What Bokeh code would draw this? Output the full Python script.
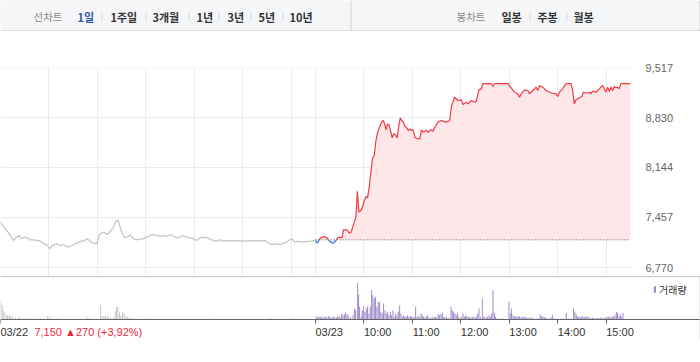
import numpy as np
from bokeh.plotting import figure
from bokeh.layouts import column
from bokeh.models import (FixedTicker, Label, Span, Range1d, NumeralTickFormatter,
                          Legend, LegendItem, LinearAxis)
from bokeh.embed import file_html
from bokeh.resources import INLINE
from bokeh.core.properties import value

# ---------------- data ----------------
PREV_CLOSE = 7150
price_ticks = [6770, 7457, 8144, 8830, 9517]

# minutes since 09:00 of 03/22
day1_min = [0, 4, 8, 12, 16, 20, 23, 26, 29, 33, 37, 41, 45, 49, 53, 58, 61, 64, 70, 74,
            78, 82, 86, 91, 95, 99, 103, 107, 111, 115, 119, 123, 128, 132, 136, 140, 142,
            145, 147, 150, 154, 158, 160, 165, 169, 173, 177, 181, 185, 189, 193, 198, 202,
            206, 210, 214, 218, 222, 226, 230, 235, 239, 243, 247, 251, 255, 259, 263, 267,
            272, 276, 280, 284, 288, 292, 296, 300, 305, 309, 313, 317, 321, 325, 329, 333,
            337, 342, 346, 350, 354, 358, 361, 364, 368, 372, 379, 385, 389]
day1_price = [7393, 7324, 7278, 7210, 7141, 7187, 7210, 7164, 7187, 7178, 7150, 7150, 7141,
              7132, 7104, 7072, 7026, 7072, 7095, 7072, 7086, 7058, 7058, 7086, 7104, 7132,
              7132, 7164, 7132, 7104, 7095, 7232, 7255, 7223, 7269, 7324, 7393, 7425, 7370,
              7255, 7178, 7196, 7219, 7164, 7150, 7164, 7164, 7187, 7210, 7223, 7210, 7196,
              7210, 7196, 7223, 7196, 7178, 7187, 7210, 7187, 7178, 7164, 7141, 7178, 7187,
              7178, 7164, 7141, 7132, 7150, 7132, 7141, 7132, 7141, 7132, 7141, 7132, 7132,
              7141, 7132, 7141, 7132, 7141, 7132, 7095, 7086, 7095, 7086, 7104, 7118, 7150,
              7164, 7118, 7132, 7118, 7127, 7132, 7141]

# minutes since 09:00 of 03/23
day2_min = [0, 2.4, 4.4, 6.5, 8.6, 10.6, 12.7, 14.3, 16, 18.4, 20.9, 23.4, 25.4, 27.5, 29.5,
            31.6, 33.2, 34.5, 37.4, 39.8, 41.9, 43.9, 46, 48.1, 50.1, 51.8, 53.8, 56.3, 58.4,
            60.4, 62.5, 64.5, 66.6, 68.6, 70.7, 72.8, 74.8, 76.9, 79.3, 81.8, 83.9, 85.9,
            87.2, 89.2, 91.3, 93.3, 95, 97, 99.1, 101.1, 103.2, 104.9, 106.9, 109, 110.6,
            112.7, 114.7, 116.8, 118.8, 120.9, 123, 126.2, 129.1, 131.2, 133.2, 135.3, 137.4,
            139.4, 142.7, 145.6, 147.6, 151.8, 155.1, 158, 162, 166.2, 168.2, 172.3, 176.5,
            180.6, 182.6, 186.8, 188.8, 192.9, 197, 199.1, 202.4, 205.3, 207.3, 217.6, 219.7,
            221.7, 238.2, 242.3, 246.4, 250.5, 252.6, 254.6, 258.8, 262.9, 264.9, 269.1,
            273.2, 275.2, 277.3, 281.4, 285.5, 289.6, 293.7, 297.9, 299.9, 302, 306.1, 310.2,
            316.4, 318.4, 320.5, 322.5, 326.7, 330, 331.6, 334.9, 339, 341.1, 343.1, 347.2,
            351.4, 353.4, 355.5, 357.5, 359.6, 361.6, 363.7, 365.8, 367.8, 369.9, 371.9, 374,
            376, 378.1, 388.4, 390]
day2_price = [7141, 7104, 7150, 7178, 7187, 7196, 7187, 7178, 7150, 7123, 7104, 7118, 7141,
              7178, 7187, 7178, 7187, 7288, 7292, 7278, 7242, 7250, 7324, 7393, 7470, 7818,
              7531, 7553, 7608, 7690, 7745, 7727, 7882, 8079, 8276, 8308, 8514, 8628, 8697,
              8766, 8789, 8734, 8661, 8743, 8720, 8628, 8551, 8606, 8590, 8551, 8720, 8826,
              8789, 8766, 8707, 8697, 8652, 8675, 8652, 8660, 8560, 8537, 8537, 8661, 8628,
              8642, 8652, 8628, 8661, 8642, 8697, 8766, 8789, 8780, 8766, 8789, 8981, 9109,
              9064, 9073, 9009, 9041, 9018, 9064, 9041, 9055, 9211, 9224, 9295, 9295, 9256,
              9295, 9295, 9238, 9178, 9156, 9109, 9156, 9211, 9201, 9156, 9201, 9247, 9201,
              9270, 9247, 9201, 9178, 9164, 9156, 9119, 9178, 9224, 9295, 9295, 9201, 9018,
              9073, 9101, 9119, 9178, 9164, 9178, 9156, 9192, 9178, 9224, 9247, 9270, 9224,
              9178, 9247, 9192, 9247, 9201, 9256, 9238, 9247, 9224, 9295, 9295, 9295]

vol1_min = [0.4, 2.0, 3.3, 5.3, 7.4, 9.0, 11.0, 13.0, 15.0, 18.5, 22.6, 24.7, 28.8, 33.0, 37.0,
            41.0, 45.0, 49.4, 53.5, 58.4, 60.5, 63.8, 70.0, 82.3, 96.7, 107.0, 109.0, 123.9,
            125.9, 128.0, 130.0, 132.1, 134.2, 136.2, 140.0, 142.0, 143.6, 145.3, 147.3, 149.0,
            151.0, 153.1, 155.1, 157.2, 159.7, 162.6, 165.4, 172.8, 181.0, 187.0, 201.6, 224.3,
            244.9, 263.4, 267.5, 334.0, 361.0]
vol1 = [183, 150, 90, 70, 40, 40, 40, 40, 27, 20, 30, 20, 13, 13, 13, 13, 13, 13, 13, 33, 27,
        20, 13, 10, 10, 30, 13, 143, 40, 33, 33, 40, 20, 20, 20, 80, 123, 123, 70, 40, 73, 60,
        33, 27, 20, 13, 13, 10, 10, 10, 10, 10, 10, 10, 10, 20, 13]

vol2_min = [1.0, 2.7, 4.3, 6.0, 7.6, 9.3, 10.9, 12.6, 14.2, 15.9, 17.5, 19.2, 20.8, 22.5, 24.1,
            25.8, 27.4, 29.1, 30.7, 32.4, 34.0, 35.7, 37.3, 39.0, 40.6,
            43.5, 46.4, 48.4, 49.7, 52.2, 53.4, 54.6, 56.7, 57.9, 59.6, 61.2, 62.9, 64.5, 66.2,
            67.8, 69.5, 71.1, 72.8, 74.4, 76.1, 77.7, 79.4, 81.0, 82.7, 84.3, 86.0, 87.7, 89.3,
            91.0, 92.6, 94.2, 95.9, 97.5, 99.2, 100.9, 102.5, 104.2, 105.8, 107.5, 109.1, 110.8,
            112.4, 114.1, 115.7, 117.4, 119.0, 120.7, 122.3, 124.0, 125.6, 127.3, 128.9, 130.6,
            132.2, 133.9, 135.5, 137.2, 138.8, 140.5, 142.1, 143.8, 145.4, 147.1, 148.7, 150.4,
            152.0, 153.7, 155.4, 157.0, 158.7, 160.3, 162.0, 163.6, 165.3, 167.7, 169.4, 171.0,
            172.7, 174.3, 176.0, 177.6, 179.3, 180.9, 182.6, 184.2, 185.9, 187.5, 189.2, 190.8,
            192.5, 194.1, 195.8, 197.4, 199.1, 200.7, 202.4, 204.0, 206.5, 208.2, 209.8, 211.5,
            213.1, 214.8, 216.4, 218.1, 219.7, 221.4, 223.0, 224.7, 228.0, 232.1, 239.5, 241.2,
            242.8, 244.5, 246.1, 247.8, 249.4, 251.1, 252.7, 254.4, 256.0, 257.7, 259.4, 261.0,
            262.7, 264.3, 266.0, 267.6, 269.3, 273.4, 276.7, 278.3, 280.0, 281.6, 283.3, 284.9,
            286.6, 289.0, 291.5, 293.2, 294.8, 297.3, 300.2, 303.1, 306.4, 310.5, 313.0, 316.3,
            319.6, 321.2, 322.9, 324.5, 326.2, 327.8, 329.5, 331.1, 332.8, 334.4, 336.1, 337.8,
            339.4, 341.1, 342.7, 344.4, 346.0, 347.7, 349.3, 351.0, 352.6, 354.3, 355.9, 357.6,
            359.2, 360.9, 362.6, 364.2, 365.9, 367.5, 369.2, 370.8, 372.5, 374.1, 375.8, 377.4,
            379.1, 380.7]
vol2 = [30, 20, 30, 20, 30, 20, 20, 30, 20, 30, 30, 20, 20, 30, 20, 20, 30, 30, 20, 60, 40, 50,
        70, 50, 40,
        27, 43, 110, 93, 367, 250, 127, 33, 93, 133, 77, 110, 127, 60, 127, 293, 243, 210, 227,
        127, 177, 177, 77, 60, 160, 93, 60, 77, 43, 77, 43, 93, 27, 60, 43, 77, 143, 60, 27, 43,
        33, 27, 43, 27, 33, 27, 27, 20, 127, 27, 33, 20, 60, 43, 27, 20, 27, 43, 20, 10, 20, 27,
        20, 27, 20, 53, 43, 53, 67, 27, 20, 27, 10, 20, 127, 93, 77, 60, 43, 67, 27, 10, 27, 60,
        27, 43, 33, 27, 20, 20, 27, 20, 20, 27, 60, 110, 27, 210, 27, 20, 20, 27, 43, 27, 60,
        293, 67, 27, 10, 10, 10, 177, 60, 110, 43, 27, 33, 27, 33, 27, 20, 27, 20, 27, 20, 13,
        20, 13, 20, 13, 10, 13, 53, 27, 33, 20, 20, 13, 13, 20, 47, 13, 10, 10, 10, 13, 67, 10,
        10, 113, 77, 50, 27, 33, 20, 27, 33, 20, 27, 33, 20, 20, 13, 20, 13, 13, 13, 13, 13, 20,
        13, 20, 13, 20, 27, 20, 27, 20, 27, 33, 43, 77, 67, 33, 53, 27, 67]

SESSION = 390  # minutes per trading day
time_ticks = [0, 390, 450, 510, 570, 630, 690, 750]
time_labels = ["03/22", "03/23", "10:00", "11:00", "12:00", "13:00", "14:00", "15:00"]
hour_grid = [60, 120, 180, 240, 300, 360, 390, 450, 510, 570, 630, 690, 750]

day1_summary = "7,150 \u25b2270 (+3,92%)"
legend_label = "거래량"
menu_left = ["1일", "1주일", "3개월", "1년", "3년", "5년", "10년"]
menu_right = ["일봉", "주봉", "월봉"]

# ---------------- styling ----------------
W = 700
FRAME_W = 630
X_END = 2 * SESSION              # price frame spans both sessions
X_END_FULL = X_END * W / FRAME_W  # volume frame spans full width
LABEL_SHIFT = 17                 # half a time label, in minutes (labels start at tick)
NUM_FONT = "Liberation Sans"
KR_FONT = "Noto Sans CJK KR"
RED = "#f23a45"
BLUE = "#3a78dc"

VOL_TOP = 431        # volume units at the top of the volume pane
VOL_PX = 43          # pixel height of the pane above the baseline
VOL_FRAME_H = 62     # frame includes the label row below the baseline
VOL_PER_PX = VOL_TOP / VOL_PX
VOL_BOTTOM = -(VOL_FRAME_H - VOL_PX) * VOL_PER_PX


def no_align(fig):
    try:
        fig.frame_align = False
    except Exception:
        pass


# ---------------- header ----------------
header = figure(width=W, height=31, x_range=Range1d(0, W), y_range=Range1d(31, 0),
                toolbar_location=None, output_backend="svg", min_border=0,
                x_axis_location=None, y_axis_location=None, outline_line_color=None,
                background_fill_color="#f5f6f8", border_fill_color="#f5f6f8")
no_align(header)
header.grid.visible = False
left_x = [77, 110, 152, 196, 227, 258, 289]
right_x = [501, 537, 573]
header.text(x=[33, 456], y=[16, 16], text=["선차트", "봉차트"], text_font=value(KR_FONT),
            text_font_size="10.5px", text_color="#8a8a8a", text_baseline="middle")
header.text(x=left_x[:1], y=[16], text=menu_left[:1], text_font=value(KR_FONT),
            text_font_size="11px", text_font_style="bold", text_color="#2f56b0",
            text_baseline="middle")
header.text(x=left_x[1:] + right_x, y=[16] * 9, text=menu_left[1:] + menu_right,
            text_font=value(KR_FONT), text_font_size="11px", text_font_style="bold",
            text_color="#333333", text_baseline="middle")
sep_x = [101.5, 145.5, 188.5, 218.5, 250.5, 282.5, 529.5, 566.5]
header.segment(x0=sep_x, y0=[12] * 8, x1=sep_x, y1=[21] * 8, line_color="#d8d8d8", line_width=1)
header.segment(x0=[350.5, 699.5], y0=[0, 0], x1=[350.5, 699.5], y1=[31, 31],
               line_color="#d2d2d6", line_width=1)
header.segment(x0=[0], y0=[30.5], x1=[W], y1=[30.5], line_color="#c6c7cb", line_width=1)

# ---------------- price chart ----------------
pf = figure(width=W, height=245, x_range=Range1d(0, X_END),
            y_range=Range1d(6646.4, 9517.3), toolbar_location=None, output_backend="svg",
            min_border_left=0, min_border_right=W - FRAME_W, min_border_top=36,
            min_border_bottom=0, x_axis_location=None, y_axis_location="right",
            outline_line_color=None, background_fill_color="white")
no_align(pf)
pf.yaxis.ticker = FixedTicker(ticks=price_ticks)
pf.yaxis.formatter = NumeralTickFormatter(format="0,0")
pf.yaxis.axis_line_color = None
pf.yaxis.major_tick_line_color = None
pf.yaxis.minor_tick_line_color = None
pf.yaxis.major_label_standoff = 9
pf.yaxis.major_label_text_font = NUM_FONT
pf.yaxis.major_label_text_font_size = "11px"
pf.yaxis.major_label_text_color = "#666666"
pf.ygrid.ticker = FixedTicker(ticks=price_ticks)
pf.xgrid.ticker = FixedTicker(ticks=hour_grid)
pf.grid.grid_line_color = "#ebebeb"
pf.grid.grid_line_width = 1

# day 1 (gray)
pf.line(day1_min, day1_price, line_color="#c6c6c6", line_width=1.3)

# day 2: insert crossings of previous close
t2 = SESSION + np.array(day2_min, dtype=float)
p2 = np.array(day2_price, dtype=float)
xs, ys = [t2[0]], [p2[0]]
for i in range(1, len(t2)):
    a, b = p2[i - 1] - PREV_CLOSE, p2[i] - PREV_CLOSE
    if a * b < 0:
        xs.append(t2[i - 1] + (t2[i] - t2[i - 1]) * a / (a - b))
        ys.append(PREV_CLOSE)
    xs.append(t2[i])
    ys.append(p2[i])
xs = np.array(xs)
ys = np.array(ys)

pf.varea(x=xs, y1=np.full(len(xs), PREV_CLOSE), y2=np.maximum(ys, PREV_CLOSE),
         fill_color="#fde6e8")
pf.varea(x=xs, y1=np.minimum(ys, PREV_CLOSE), y2=np.full(len(xs), PREV_CLOSE),
         fill_color="#e3ecfb")
pf.line([SESSION, 2 * SESSION], [PREV_CLOSE, PREV_CLOSE], line_color="#555555",
        line_width=1, line_dash="1 2")
pf.line(xs, np.where(ys >= PREV_CLOSE, ys, np.nan), line_color=RED, line_width=1.2)
pf.line(xs, np.where(ys <= PREV_CLOSE, ys, np.nan), line_color=BLUE, line_width=1.2)

# ---------------- volume chart ----------------
vf = figure(width=W, height=82, x_range=Range1d(0, X_END_FULL),
            y_range=Range1d(VOL_BOTTOM, VOL_TOP), toolbar_location=None, output_backend="svg",
            min_border_left=0, min_border_right=0, min_border_top=0,
            min_border_bottom=82 - VOL_FRAME_H,
            y_axis_location=None, x_axis_location="below", outline_line_color=None)
no_align(vf)
vf.grid.visible = False
r1 = vf.vbar(x=vol1_min, top=vol1, width=1.2, fill_color="#c4c4c4", line_color=None)
r2 = vf.vbar(x=[SESSION + m for m in vol2_min], top=vol2, width=1.2,
             fill_color="#9b86c8", line_color=None)
# axis with the tick marks, drawn on the volume baseline
vf.xaxis.fixed_location = 0
vf.xaxis.ticker = FixedTicker(ticks=time_ticks)
vf.xaxis.major_label_overrides = {t: "" for t in time_ticks}
vf.xaxis.major_label_standoff = 0
vf.xaxis.major_label_text_font_size = "1px"
vf.xaxis.major_label_text_alpha = 0
vf.xaxis.major_tick_in = 0
vf.xaxis.major_tick_out = 4
vf.xaxis.major_tick_line_color = "#555555"
vf.xaxis.minor_tick_line_color = None
vf.xaxis.axis_line_color = "#666666"
# axis with the labels, each starting at its tick
label_ticks = [t + LABEL_SHIFT for t in time_ticks]
lab_axis = LinearAxis(ticker=FixedTicker(ticks=label_ticks),
                      major_label_overrides={t: l for t, l in zip(label_ticks, time_labels)},
                      axis_line_color=None, major_tick_line_color=None,
                      minor_tick_line_color=None, major_tick_out=0, major_tick_in=0,
                      major_label_standoff=0, fixed_location=-6 * VOL_PER_PX,
                      major_label_text_font=NUM_FONT, major_label_text_font_size="11px",
                      major_label_text_color="#333333")
vf.add_layout(lab_axis, "below")
vf.add_layout(Span(location=VOL_TOP - 1, dimension="width", line_color="#8f8f8f",
                   line_width=1))
vf.add_layout(Span(location=X_END_FULL - 0.6, dimension="height", line_color="#d2d2d6",
                   line_width=1))
vf.add_layout(Label(x=42, y=-12 * VOL_PER_PX, text=day1_summary, text_color="#f0283c",
                    text_font=NUM_FONT, text_font_size="11px", text_baseline="middle"))
leg = Legend(items=[LegendItem(label=legend_label, renderers=[r2])],
             location=(653, VOL_FRAME_H - 23),
             glyph_width=3, glyph_height=8, label_standoff=3, padding=0, margin=0,
             border_line_color=None, background_fill_alpha=0, label_text_font=KR_FONT,
             label_text_font_size="10px", label_text_color="#333333", label_height=20)
vf.add_layout(leg)

# bottom rule
bottom = figure(width=W, height=2, toolbar_location=None, output_backend="svg", min_border=0,
                x_axis_location=None, y_axis_location=None, outline_line_color=None,
                background_fill_color="#555555", border_fill_color="#555555")
no_align(bottom)
bottom.grid.visible = False

p = column(header, pf, vf, bottom, spacing=0)
open("out.html", "w").write(file_html(p, INLINE))
